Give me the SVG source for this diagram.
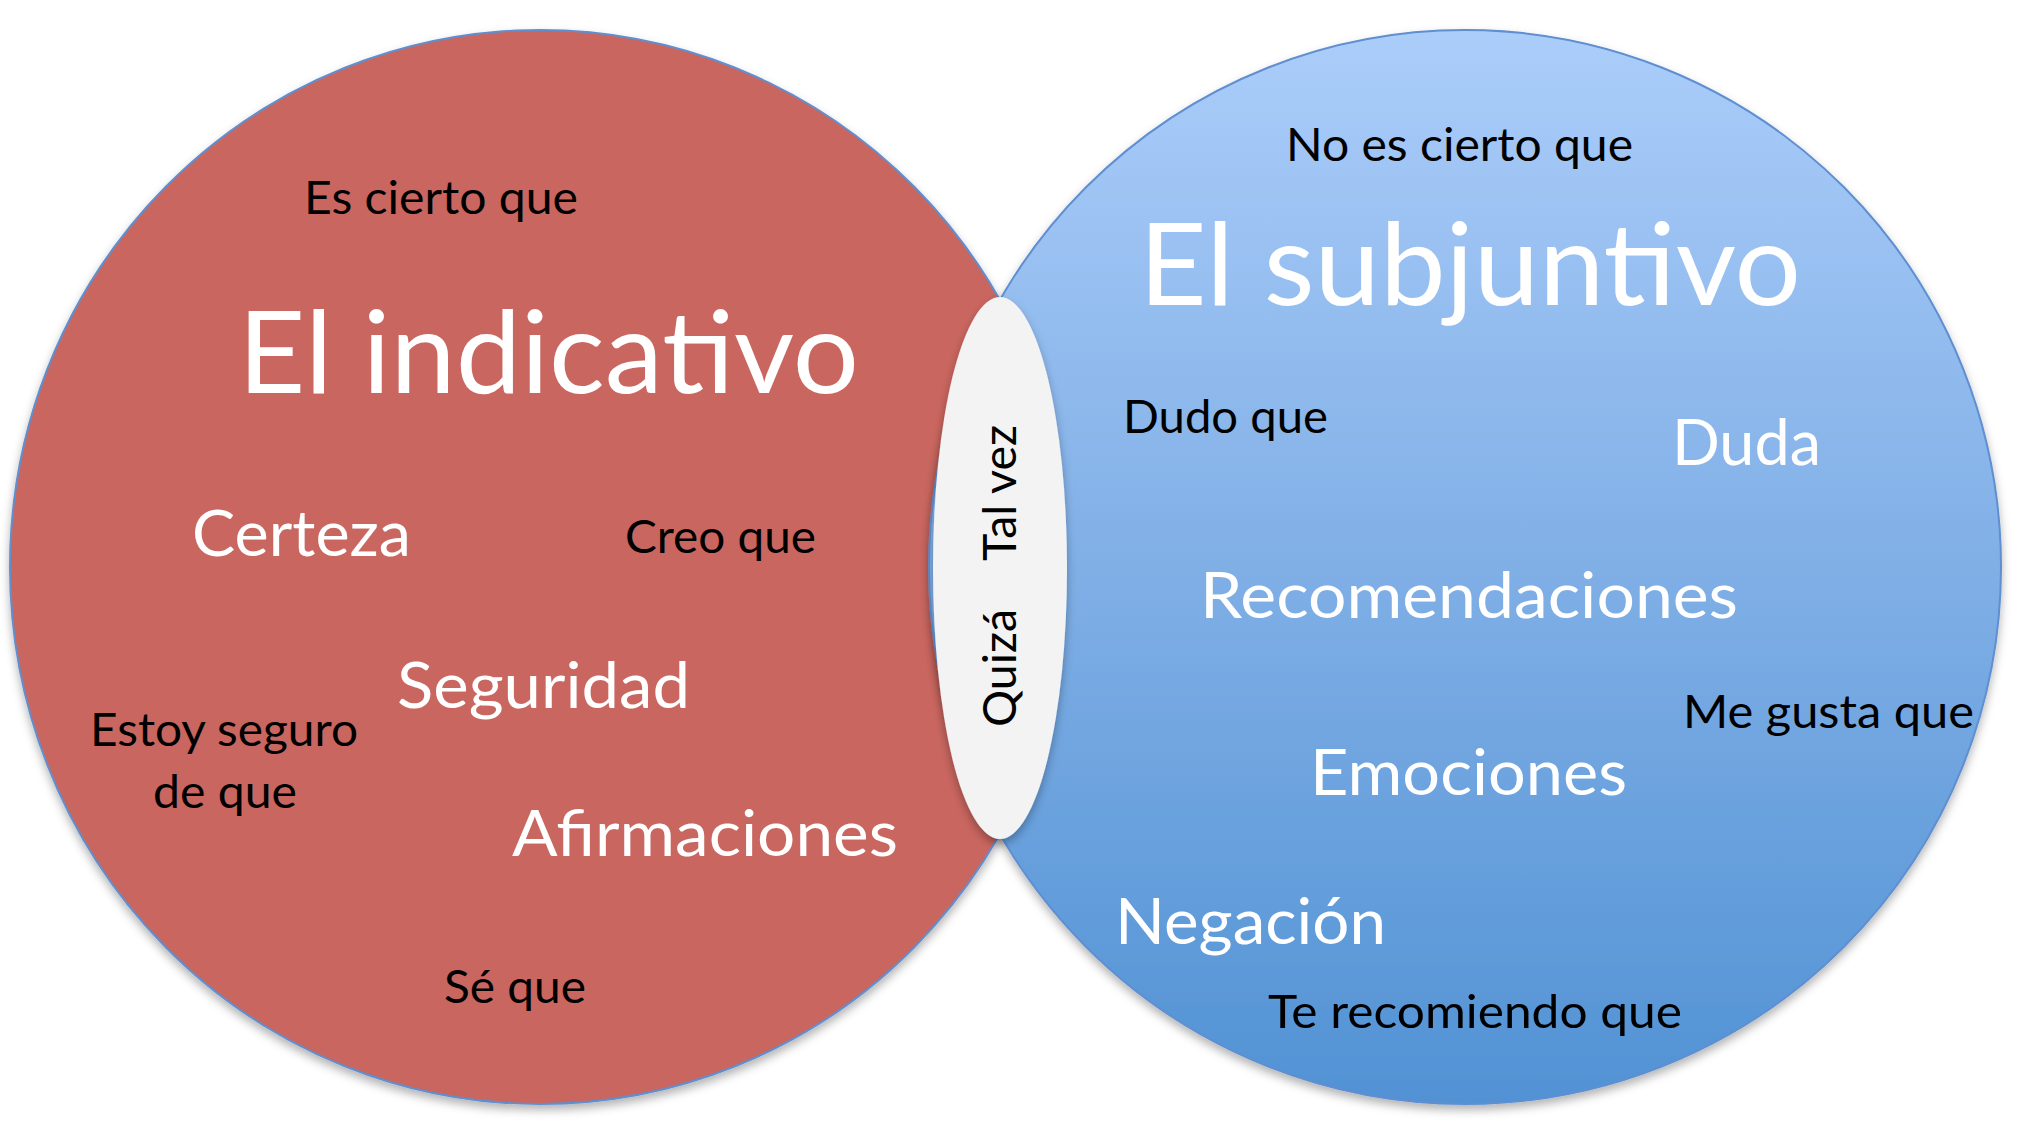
<svg xmlns="http://www.w3.org/2000/svg" width="2026" height="1142" viewBox="0 0 2026 1142">
<style>
text{font-family:Lato,"Open Sans","Liberation Sans",sans-serif}
.title{font-size:114px;fill:#ffffff}
.mid{font-size:64.5px;fill:#ffffff}
.small{font-size:47px;fill:#000000}
.circle{stroke:#5f8fd0;stroke-width:2}
</style>
<defs>
<linearGradient id="blueGrad" x1="0" y1="0" x2="0" y2="1">
<stop offset="0" stop-color="#abcdfa"/>
<stop offset="0.5" stop-color="#80afe6"/>
<stop offset="1" stop-color="#5192d4"/>
</linearGradient>
<filter id="shadow" x="-10%" y="-10%" width="120%" height="125%">
<feDropShadow dx="0" dy="5" stdDeviation="5" flood-color="#000000" flood-opacity="0.3"/>
</filter>
</defs>
<rect width="2026" height="1142" fill="#ffffff"/>
<g id="indicativo">
<ellipse class="circle" cx="540" cy="567" rx="530" ry="537" fill="#c9665f" filter="url(#shadow)"/>
<text class="small" x="304" y="214" textLength="274" lengthAdjust="spacingAndGlyphs">Es cierto que</text>
<text class="title" x="238" y="393" textLength="621" lengthAdjust="spacingAndGlyphs">El indicativo</text>
<text class="mid" x="192" y="556" textLength="219" lengthAdjust="spacingAndGlyphs">Certeza</text>
<text class="small" x="625" y="553" textLength="191" lengthAdjust="spacingAndGlyphs">Creo que</text>
<text class="mid" x="397" y="708" textLength="293" lengthAdjust="spacingAndGlyphs">Seguridad</text>
<text class="small" x="90" y="746" textLength="268" lengthAdjust="spacingAndGlyphs">Estoy seguro</text>
<text class="small" x="153" y="808" textLength="144" lengthAdjust="spacingAndGlyphs">de que</text>
<text class="mid" x="512" y="856" textLength="386" lengthAdjust="spacingAndGlyphs">Afirmaciones</text>
<text class="small" x="444" y="1003" textLength="142" lengthAdjust="spacingAndGlyphs">Sé que</text>
</g>
<g id="subjuntivo">
<ellipse class="circle" cx="1465" cy="567" rx="536" ry="537" fill="url(#blueGrad)" filter="url(#shadow)"/>
<text class="small" x="1286" y="161" textLength="347" lengthAdjust="spacingAndGlyphs">No es cierto que</text>
<text class="title" x="1139" y="305" textLength="662" lengthAdjust="spacingAndGlyphs">El subjuntivo</text>
<text class="small" x="1123" y="433" textLength="205" lengthAdjust="spacingAndGlyphs">Dudo que</text>
<text class="mid" x="1672" y="465" textLength="149" lengthAdjust="spacingAndGlyphs">Duda</text>
<text class="mid" x="1200" y="618" textLength="538" lengthAdjust="spacingAndGlyphs">Recomendaciones</text>
<text class="small" x="1683" y="728" textLength="291" lengthAdjust="spacingAndGlyphs">Me gusta que</text>
<text class="mid" x="1310" y="795" textLength="317" lengthAdjust="spacingAndGlyphs">Emociones</text>
<text class="mid" x="1115" y="944" textLength="271" lengthAdjust="spacingAndGlyphs">Negación</text>
<text class="small" x="1268" y="1028" textLength="414" lengthAdjust="spacingAndGlyphs">Te recomiendo que</text>
</g>
<g id="interseccion">
<ellipse cx="1000" cy="568" rx="67" ry="271" fill="#f3f3f3" filter="url(#shadow)"/>
<g transform="translate(1016,727) rotate(-90)">
<text class="small" x="0" y="0" textLength="118" lengthAdjust="spacingAndGlyphs">Quizá</text>
<text class="small" x="166" y="0" textLength="136" lengthAdjust="spacingAndGlyphs">Tal vez</text>
</g>
</g>
<g id="connectors"/>
</svg>
